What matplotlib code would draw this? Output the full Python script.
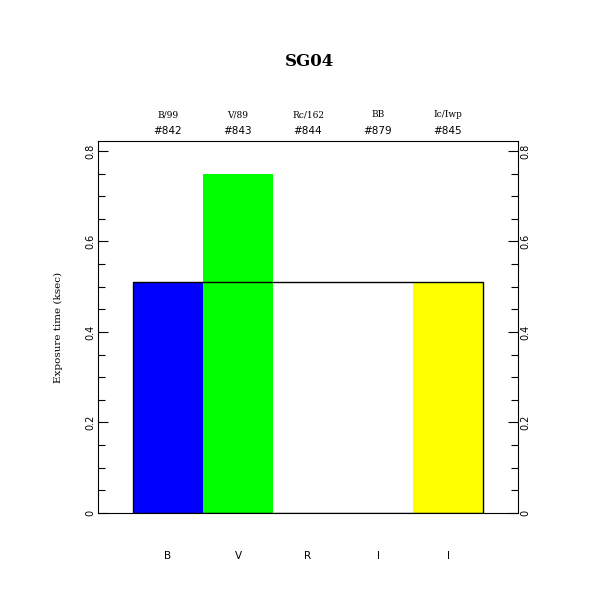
import matplotlib
matplotlib.use("Agg")
import matplotlib.pyplot as plt
from matplotlib.ticker import MultipleLocator, FixedFormatter, FixedLocator

# data
bands = ["B", "V", "R", "I", "I"]
filters = ["B/99", "V/89", "Rc/162", "BB", "Ic/Iwp"]
ids = ["#842", "#843", "#844", "#879", "#845"]
exptime = [0.51, 0.75, 0.0, 0.0, 0.51]
colors = ["#0000ff", "#00ff00", "#ffffff", "#ffffff", "#ffff00"]
outline_height = 0.51

plt.rcParams['font.family'] = 'DejaVu Sans'

fig = plt.figure(figsize=(6.11, 6.11), dpi=100)
ax = fig.add_axes([98/611, 1 - 513/611, 420/611, 372/611])

x = list(range(1, len(bands) + 1))
ax.bar(x, exptime, width=1.0, color=colors, edgecolor="none")
ax.bar([3], [outline_height], width=len(bands), fill=False, edgecolor="black", linewidth=1.0)

ax.set_xlim(0, 6)
ax.set_ylim(0, 0.822)

ax.set_xticks([])
ax.yaxis.set_major_locator(FixedLocator([0, 0.2, 0.4, 0.6, 0.8]))
ax.yaxis.set_major_formatter(FixedFormatter(["0", "0.2", "0.4", "0.6", "0.8"]))
ax.yaxis.set_minor_locator(MultipleLocator(0.05))
ax.tick_params(axis="y", which="both", direction="in", left=True, right=True,
               labelleft=True, labelright=True, labelsize=7, labelrotation=90)
ax.tick_params(axis="y", which="major", length=7, width=0.8, pad=2)
ax.tick_params(axis="y", which="minor", length=5, width=0.8)
for lab in ax.get_yticklabels():
    lab.set_va("center")
for s in ax.spines.values():
    s.set_linewidth(0.8)

ax.set_ylabel("Exposure time (ksec)", family="DejaVu Serif", fontsize=7.5, labelpad=16)

for xi, b, f, i in zip(x, bands, filters, ids):
    ax.text(xi, -0.095, b, ha="center", va="center", fontsize=7.5)
    ax.text(xi, 0.822 + 0.058, f, ha="center", va="center", fontsize=6.5, family="DejaVu Serif")
    ax.text(xi, 0.822 + 0.021, i, ha="center", va="center", fontsize=7.5)

fig.text(309/611, 1 - 62/611, "SG04", ha="center", va="center", fontsize=12,
         family="DejaVu Serif", weight="bold")

fig.savefig("out.png", dpi=100, facecolor="white")
